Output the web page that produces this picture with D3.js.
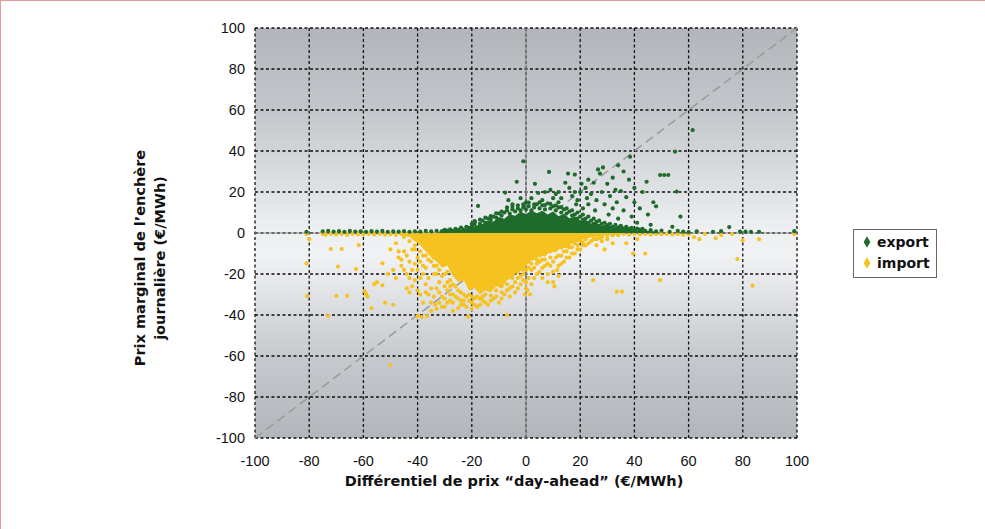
<!DOCTYPE html>
<html><head><meta charset="utf-8">
<script src="https://cdn.jsdelivr.net/npm/d3@7"></script>
<style>
html,body{margin:0;padding:0;background:#fff;}
svg{display:block;}
</style></head>
<body>
<svg id="chart" width="985" height="529"></svg>
<script>
// ---------- DATA ----------
const xTicks = [-100,-80,-60,-40,-20,0,20,40,60,80,100];
const yTicks = [-100,-80,-60,-40,-20,0,20,40,60,80,100];
const seriesNames = ["export","import"];
const xTitle = "Différentiel de prix “day-ahead” (€/MWh)";
const yTitleLines = ["Prix marginal de l’enchère","journalière (€/MWh)"];

// dense core of export points (upper envelope, from y=0)
const exportCoreX   = [-32,-26,-22,-20,-18,-16,-14,-12,-10,-8,-6,-4,-2,0,2,4,6,8,10,12,14,16,18,20,22,24,26,28,30,33,36,40,44,48];
const exportCoreTop = [0.8,1.3,2,2.6,3.8,4.4,6,5.6,7.8,7,9.2,8.4,10.5,9.2,11,9.6,10.8,9,10.5,8.2,9.4,7.2,8,6,6.4,4.6,5,3.4,3.6,2.4,2,1.4,1.1,0.7];

// dense core of import points (lower envelope, from y=0)
const importCoreX      = [-46,-43,-41,-39,-37,-35,-33,-31,-29,-27,-25,-23,-21,-19,-17,-15,-13,-11,-9,-7,-5,-3,-1,1,3,5,7,9,11,13,15,17,19,21,24,28,32,36];
const importCoreBottom = [-0.8,-2,-4,-6,-9,-12,-14,-17,-16,-21,-24,-23,-28,-27,-30,-28,-29,-26,-27,-23,-22,-18,-19,-14,-13,-11,-11.5,-9,-9.5,-7,-7.5,-5,-4.5,-3,-2.2,-1.4,-1,-0.6];

const exportPoints = [
 [-81,0.6],[-75,0.8],[-73,1],[-71,0.7],[-69,0.9],[-67,0.6],[-65,1],[-63,0.7],[-61,0.8],[-59,0.6],[-57,0.9],[-55,0.7],[-53,1],[-51,0.6],[-49,0.8],[-47,0.7],[-45,0.9],[-43,0.6],[-41,0.8],[-39,0.7],[-37,1],[-35,0.8],[-33,1.1],[-31,0.9],[-29,1.2],[-27,1],[-25,1.4],[-23,1.6],
 [48,0.8],[50,1.2],[53,0.6],[56,1],[58,0.7],[60,0.5],[63,0.8],[69,0.6],[72,0.9],[75,2.9],[79,0.7],[81,0.7],[83,0.6],[86,0.6],[99,0.9],
 [-21,2.5],[-20,3.2],[-19,4.2],[-18.8,5.4],[-17,4.5],[-16,6],[-15,5],[-14,7],[-13,6.5],[-12,8],[-11,7.5],[-10,9.5],[-9,8.5],[-8,10],[-7,11],[-6,9.5],[-5,11.5],[-4,10.5],[-3,12],[-2,11],[-1,12.5],[0,11.5],[1,13],[2,11],[3,12.5],[4,14],[5,12],[6,13.5],[7,11.5],[8,14.5],[9,12],[10,13],[11,11],[12,12.5],[13,10],[14,11.5],[15,9.5],[16,10.5],[17,8.5],[18,9],[19,7],[20,8],[21,6.5],[22,7],[23,5],[24,6],[25,4.5],[26,5.5],[27,3.5],[28,4.5],[29,3],[30,3.8],[31,2.5],[32,3],[33,2],[34,2.8],[35,1.8],[36,2.3],[37,1.5],[38,2],[40,1.3],[42,1.6],[44,1.1],[46,1.4],
 [-30,1.5],[-28,1.8],[-26,2],[-24,2.6],[-22,3],[-20,4.5],[-19,5.8],[-17,6.5],[-15,7.5],[-13,8.2],[-11,9.6],[-9,10.5],[-7,12.5],[-5,12.8],[-3,13.5],[-1,14],[1,14.8],[3,14],[5,15],[7,13.6],[9,14.2],[11,13.5],[13,12.6],[15,12],[17,11],[19,10],[21,9],[23,8],[25,7],[27,6],[29,5],[31,4.5],[33,4],[35,3.5],[37,3],[39,2.5],[41,2.2],[43,2],
 [-17.7,13.2],[-7.7,19.7],[-6.5,16],[-3.4,25],[-1,35],[-2,17],[0,15],[-5,14],[2,17],[3.3,24],[4.5,19.5],[6,16],[7,20],[8.5,29.8],[9,21],[10,17],[11,19],[12,15],[13,17],[14.5,24.5],[15.5,29],[16,22],[17,18],[18,28.5],[18.5,14],[19,16],[20,20],[20.5,24],[21,12],[22,22],[22.5,17],[23,14],[24,19],[25,24.5],[25.5,11],[26,16],[26.6,31],[27.3,29],[28,20],[28.4,32],[29,14],[30,24],[30.5,9],[31,18],[32,12],[33,21],[33.5,15],[34,7],[35,20.5],[36,11],[37,17.5],[38.4,37.2],[39,8],[40,15],[41,5],[42,12],[43,20],[44.5,25],[45,9],[46,4],[47,15],[48,13],[49.5,28.3],[51,28.3],[52.5,28.3],[54,3],[55,39.7],[55.6,20.2],[57,8],[61.5,50.2],[38,26],[36,30],[34,33],[32,27],[40,22],[23,26],[18,20],[12,20]
];

const importPoints = [
 [-81,-0.5],[-80,-3],[-75,-0.5],[-74,-0.8],[-72,-0.4],[-70,-0.7],[-68,-0.5],[-66,-0.9],[-64,-0.4],[-62,-0.6],[-60,-0.8],[-58,-0.5],[-56,-0.7],[-54,-0.4],[-52,-0.8],[-50,-0.6],[-48,-0.9],[-46,-0.5],[-44,-0.7],[-42,-1],[-40,-1.3],
 [36,-0.5],[38,-0.8],[40,-0.4],[42,-0.7],[44,-0.5],[46,-0.8],[48,-0.5],[50,-0.6],[52,-0.4],[54,-0.7],[56,-0.5],[58,-0.9],[60,-0.6],[62,-2],[64,-3],[66,-0.5],[70,-2.5],[72,-1],[76,-0.5],[78,-12.7],[80,-3.5],[83.6,-25.7],[86,-3],[99,-0.5],
 [-81,-14.8],[-80.8,-30.7],[-72,-7.8],[-68,-7.8],[-69.4,-16.4],[-73,-40.5],[-70,-30.7],[-66,-30.7],[-62.7,-17.6],[-61.7,-5.9],[-59,-29.8],[-59.5,-28.5],[-58.5,-31],[-57,-36.7],[-56,-25],[-55,-24],[-53,-25.5],[-53,-14.8],[-52,-34],[-49,-35],[-50,-64.4],[-51,-20],[-49,-18],[-48,-22],[-47,-12],[-46,-16],[-45,-9],[-44,-27],[-43,-29],[-42,-26],[-44,-20],[-43,-14],[-42,-18],[-41,-8],[-40,-40.5],[-38.5,-41],[-36.5,-40.5],[-40,-12],[-39,-22],[-38,-16],[-37,-25],[-36,-30],[-35,-34],[-33.5,-35],[-32,-34],[-34,-20],[-33,-27],[-31,-31],[-30,-36],[-29,-24],[-28,-33],[-27,-38],[-25,-36.6],[-24,-33],[-23,-35],[-21.4,-40.8],[-20,-34],[-19,-32],[-18,-36],[-16,-33],[-14,-35],[-12,-32],[-10,-34],[-8,-30],[-7,-40],[-6,-27],[-4,-29],[-2,-25],[-0.4,-30],[0.5,-28],[1.5,-30],[-3,-22],[-1,-20],[0,-24],[2,-18],[3,-22],[4,-15],[5,-19],[6,-13],[7,-16],[8,-20],[9,-16],[10,-24],[10.5,-26],[11.5,-18],[12,-11],[13,-15],[14,-9],[15,-12],[16,-7],[17,-10],[18,-5],[19,-8],[20,-4],[21,-6],[22,-3],[23,-5],[24.8,-23],[25,-3],[26,-6],[27,-2.5],[28,-4],[29,-8],[30,-3],[32,-5],[33.5,-28.6],[35.4,-28.6],[39.5,-10],[44,-10],[49.5,-23],[37,-5],[41,-3],
 [-45,-2],[-43,-4],[-41,-6],[-40,-3],[-39,-9],[-38,-6],[-37,-11],[-36,-8],[-35,-14],[-34,-12],[-33,-16],[-32,-18],[-31,-15],[-30,-20],[-29,-19],[-28,-23],[-27,-25],[-26,-26],[-25,-28],[-24,-29],[-23,-30],[-22,-31],[-21,-30],[-20,-31],[-19,-31.5],[-18,-31],[-17,-32],[-16,-31],[-15,-30],[-13,-30.5],[-11,-28],[-9,-26],[-7,-25],[-5,-22],[-3,-19],[-1,-16],[1,-14],[3,-12],[5,-11],[7,-10],[9,-9],[11,-8],[13,-7],
 [-50,-8],[-48,-5],[-47,-9],[-46,-13],[-45,-18],[-44,-11],[-43,-22],[-42,-8],[-41,-15],[-41,-23],[-40,-18],[-40,-28],[-39,-14],[-39,-30],[-38,-11],[-38,-20],[-38,-34],[-37,-17],[-37,-29],[-36,-13],[-36,-22],[-35,-27],[-35,-38],[-34,-16],[-34,-31],[-33,-20],[-33,-37],[-32,-24],[-32,-29],[-31,-21],[-31,-36],[-30,-26],[-30,-32],[-29,-28],[-29,-34],[-28,-26],[-28,-30],[-27,-30],[-27,-34],[-26,-31],[-25,-32],[-24,-35],[-23,-33],[-22,-36],[-21,-33],[-20,-37],[-19,-35],[-17,-35],[-15,-34],[-13,-33],[-11,-31],[-9,-29],[-9,-32],[-7,-28],[-6,-31],[-5,-26],[-4,-24],[-3,-27],[-2,-21],[-1,-23],[0,-18],[0,-27],[1,-17],[1,-22],[2,-15],[2,-25],[3,-17],[4,-13],[4,-20],[5,-14],[6,-17],[6,-22],[7,-13],[8,-15],[8,-24],[9,-12],[10,-14],[10,-19],[11,-12],[12,-16],[12,-21],[13,-11],[14,-14],[15,-9],[16,-12],[17,-7],[18,-10],[19,-6],[20,-8],[21,-4.5],[22,-6],[24,-4],[26,-3],[28,-2],[30,-1.5],[32,-1.2],[34,-1]
];

// ---------- STYLE ----------
const colExport = "#1e6b2c";
const colImport = "#f6c21f";

const svg = d3.select("#chart");
const W = 985, H = 529;

// outer frame (pink)
svg.append("line").attr("x1",0).attr("x2",W).attr("y1",0.5).attr("y2",0.5).attr("stroke","#e99a9a").attr("stroke-width",1);
svg.append("line").attr("x1",0.5).attr("x2",0.5).attr("y1",0).attr("y2",H).attr("stroke","#e99a9a").attr("stroke-width",1);

const x = d3.scaleLinear().domain([-100,100]).range([255,797]);
const y = d3.scaleLinear().domain([-100,100]).range([438,28]);

// background gradient
const defs = svg.append("defs");
const grad = defs.append("linearGradient").attr("id","bg").attr("x1",0).attr("x2",0).attr("y1",0).attr("y2",1);
grad.append("stop").attr("offset","0%").attr("stop-color","#b2b5ba");
grad.append("stop").attr("offset","20%").attr("stop-color","#c3c6ca");
grad.append("stop").attr("offset","50%").attr("stop-color","#eef0f2");
grad.append("stop").attr("offset","56%").attr("stop-color","#f0f1f3");
grad.append("stop").attr("offset","80%").attr("stop-color","#c6c9cd");
grad.append("stop").attr("offset","100%").attr("stop-color","#b2b5ba");

svg.append("rect").attr("x",x(-100)).attr("y",y(100)).attr("width",x(100)-x(-100)).attr("height",y(-100)-y(100)).attr("fill","url(#bg)");

// grid
const g = svg.append("g");
g.selectAll("line.vg").data(xTicks).enter().append("line")
 .attr("x1",d=>x(d)).attr("x2",d=>x(d)).attr("y1",y(100)).attr("y2",y(-100))
 .attr("stroke","#111").attr("stroke-width",1.3).attr("stroke-dasharray","3,2.5");
g.selectAll("line.hg").data(yTicks).enter().append("line")
 .attr("x1",x(-100)).attr("x2",x(100)).attr("y1",d=>y(d)).attr("y2",d=>y(d))
 .attr("stroke","#111").attr("stroke-width",1.3).attr("stroke-dasharray","3,2.5");

// zero axes (solid gray)
svg.append("line").attr("x1",x(0)).attr("x2",x(0)).attr("y1",y(100)).attr("y2",y(-100)).attr("stroke","#8c8c8c").attr("stroke-width",1.2);
svg.append("line").attr("x1",x(-100)).attr("x2",x(100)).attr("y1",y(0)).attr("y2",y(0)).attr("stroke","#8c8c8c").attr("stroke-width",1.2);

// diagonal
svg.append("line").attr("x1",x(-100)).attr("y1",y(-100)).attr("x2",x(100)).attr("y2",y(100))
 .attr("stroke","#9a9a9a").attr("stroke-width",1.5).attr("stroke-dasharray","9,5");

// cores
const importArea = d3.area().x((d,i)=>x(importCoreX[i])).y0(()=>y(0)).y1(d=>y(d));
const exportArea = d3.area().x((d,i)=>x(exportCoreX[i])).y0(()=>y(0)).y1(d=>y(d));

svg.append("path").datum(importCoreBottom).attr("d",importArea).attr("fill",colImport);
svg.selectAll("circle.imp").data(importPoints).enter().append("circle")
 .attr("cx",d=>x(d[0])).attr("cy",d=>y(d[1])).attr("r",2.1).attr("fill",colImport);
svg.append("path").datum(exportCoreTop).attr("d",exportArea).attr("fill",colExport);
svg.selectAll("circle.exp").data(exportPoints).enter().append("circle")
 .attr("cx",d=>x(d[0])).attr("cy",d=>y(d[1])).attr("r",2.1).attr("fill",colExport);

// tick labels
const tickFont = "'Liberation Sans', Arial, sans-serif";
svg.selectAll("text.yt").data(yTicks).enter().append("text")
 .attr("x",245).attr("y",d=>y(d)+5).attr("text-anchor","end")
 .attr("font-family",tickFont).attr("font-size",14.5).attr("fill","#111").text(d=>d);
svg.selectAll("text.xt").data(xTicks).enter().append("text")
 .attr("x",d=>x(d)).attr("y",466).attr("text-anchor","middle")
 .attr("font-family",tickFont).attr("font-size",14.5).attr("fill","#111").text(d=>d);

// titles
const titleFont = "'DejaVu Sans', sans-serif";
svg.append("text").attr("x",514).attr("y",486).attr("text-anchor","middle")
 .attr("font-family",titleFont).attr("font-weight","bold").attr("font-size",14.5).attr("fill","#111").text(xTitle);
const yt = svg.append("text").attr("transform","translate(145,258) rotate(-90)")
 .attr("text-anchor","middle").attr("font-family",titleFont).attr("font-weight","bold").attr("font-size",14.5).attr("fill","#111");
yt.append("tspan").attr("x",0).attr("y",0).text(yTitleLines[0]);
yt.append("tspan").attr("x",0).attr("y",20).text(yTitleLines[1]);

// legend
const lg = svg.append("g");
lg.append("rect").attr("x",853.5).attr("y",229.5).attr("width",83).attr("height",48).attr("fill","#fff").attr("stroke","#666").attr("stroke-width",1);
const sym = d3.symbol().type(d3.symbolDiamond).size(38);
[colExport,colImport].forEach((c,i)=>{
  lg.append("path").attr("d",sym).attr("transform",`translate(867,${242+i*21})`).attr("fill",c);
  lg.append("text").attr("x",877).attr("y",247+i*21).attr("font-family",titleFont).attr("font-weight","bold")
   .attr("font-size",14).attr("fill","#111").text(seriesNames[i]);
});
</script>
</body></html>
